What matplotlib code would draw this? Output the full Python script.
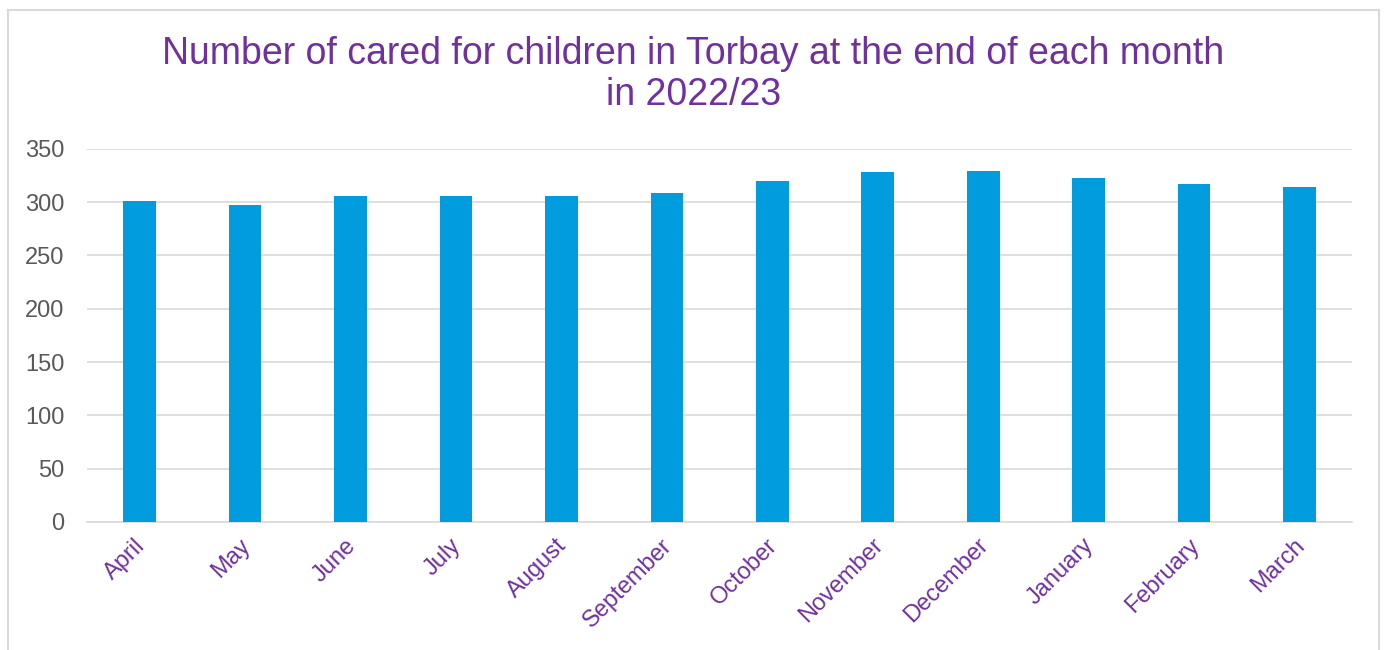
import matplotlib.pyplot as plt
from matplotlib.patches import Rectangle
from matplotlib.transforms import ScaledTranslation

plt.rcParams['font.family'] = ['Liberation Sans', 'DejaVu Sans']

months = ['April', 'May', 'June', 'July', 'August', 'September',
          'October', 'November', 'December', 'January', 'February', 'March']
children = [301, 297, 306, 306, 306, 309, 320, 328, 329, 323, 317, 314]
y_ticks = [0, 50, 100, 150, 200, 250, 300, 350]

purple = '#7030A0'
bar_blue = '#009CDE'
grey_text = '#595959'
grid_grey = '#D9D9D9'

fig = plt.figure(figsize=(13.87, 6.5), dpi=100)
ax = fig.add_axes([0.0627, 0.197, 0.9123, 0.574])

# outer chart border
fig.patches.append(Rectangle((8 / 1387, -0.05), 1371 / 1387, (650 - 10) / 650 + 0.05,
                             transform=fig.transFigure, fill=False,
                             edgecolor='#D9D9D9', linewidth=1.5))

x = range(len(months))
ax.bar(x, children, width=0.31, color=bar_blue, zorder=3)

ax.set_ylim(0, 350)
ax.set_xlim(-0.5, len(months) - 0.5)
ax.set_yticks(y_ticks)
ax.yaxis.grid(True, color=grid_grey, linewidth=1.2, zorder=0)
ax.set_axisbelow(True)

for side in ['top', 'right', 'left']:
    ax.spines[side].set_visible(False)
ax.spines['bottom'].set_color(grid_grey)
ax.spines['bottom'].set_linewidth(1.2)

ax.tick_params(axis='y', length=0, labelsize=17, labelcolor=grey_text, pad=16)
ax.tick_params(axis='x', length=0, pad=9)
ax.set_xticks(list(x))
ax.set_xticklabels(months, rotation=45, ha='right', rotation_mode='anchor',
                   fontsize=17, color=purple)
# nudge month labels slightly left, like the original
shift = ScaledTranslation(-6 / 100, 0, fig.dpi_scale_trans)
for lbl in ax.get_xticklabels():
    lbl.set_transform(lbl.get_transform() + shift)

fig.text(0.5, 0.945, 'Number of cared for children in Torbay at the end of each month\nin 2022/23',
         ha='center', va='top', fontsize=27, color=purple, linespacing=1.2)

fig.savefig('out.png', dpi=100)
